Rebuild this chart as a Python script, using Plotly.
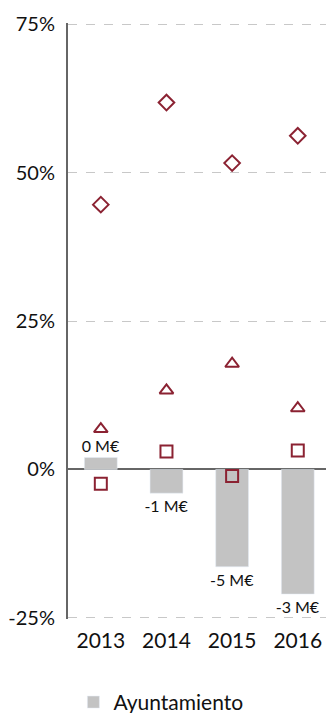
import plotly.graph_objects as go

years = ["2013", "2014", "2015", "2016"]
ayuntamiento = [2.0, -4.0, -16.4, -21.0]
bar_labels = ["0 M€", "-1 M€", "-5 M€", "-3 M€"]
diamonds = [44.6, 61.8, 51.6, 56.2]
triangles = [6.8, 13.3, 17.8, 10.3]
squares = [-2.4, 3.0, -1.1, 3.2]
ytick_vals = [-25, 0, 25, 50, 75]
ytick_text = ["-25%", "0%", "25%", "50%", "75%"]

red = "#8B2232"
font = "Lato"

fig = go.Figure()
fig.add_trace(go.Bar(
    x=years, y=ayuntamiento, name="Ayuntamiento",
    marker_color="#c3c3c3", width=0.5,
    text=bar_labels, textposition="outside", constraintext="none",
    textfont=dict(size=16, color="#111", family=font),
    cliponaxis=False,
))
for vals, sym in [(diamonds, "diamond-open"), (triangles, "triangle-up-open"), (squares, "square-open")]:
    fig.add_trace(go.Scatter(
        x=years, y=vals, mode="markers", showlegend=False,
        marker=dict(symbol=sym, size=12, color=red, line=dict(width=2, color=red)),
        cliponaxis=False,
    ))

fig.update_layout(
    width=326, height=713,
    margin=dict(l=68, r=0, t=23, b=94, autoexpand=False),
    paper_bgcolor="white", plot_bgcolor="white",
    font=dict(family=font, color="#111"),
    showlegend=True,
    legend=dict(orientation="h", x=0.36, xanchor="center", y=-0.14, yanchor="middle",
                font=dict(size=21, family=font)),
    xaxis=dict(range=[-0.5, 3.43], showgrid=False, showline=False, automargin=False,
               tickfont=dict(size=21, family=font), ticks="", ticklabelstandoff=7),
    yaxis=dict(range=[-25.2, 75.2], tickmode="array", tickvals=ytick_vals, ticktext=ytick_text,
               showgrid=True, gridcolor="#c8c8c8", griddash="dash", gridwidth=1,
               zeroline=True, zerolinecolor="#666", zerolinewidth=2,
               showline=True, linecolor="#666", linewidth=2, automargin=False,
               tickfont=dict(size=20, family=font), ticks="", ticklabelstandoff=7),
    bargap=0.5,
)
fig.write_html("out.html", config={"displayModeBar": False},
               post_script="document.body.style.margin='0';document.body.style.overflow='hidden';")
